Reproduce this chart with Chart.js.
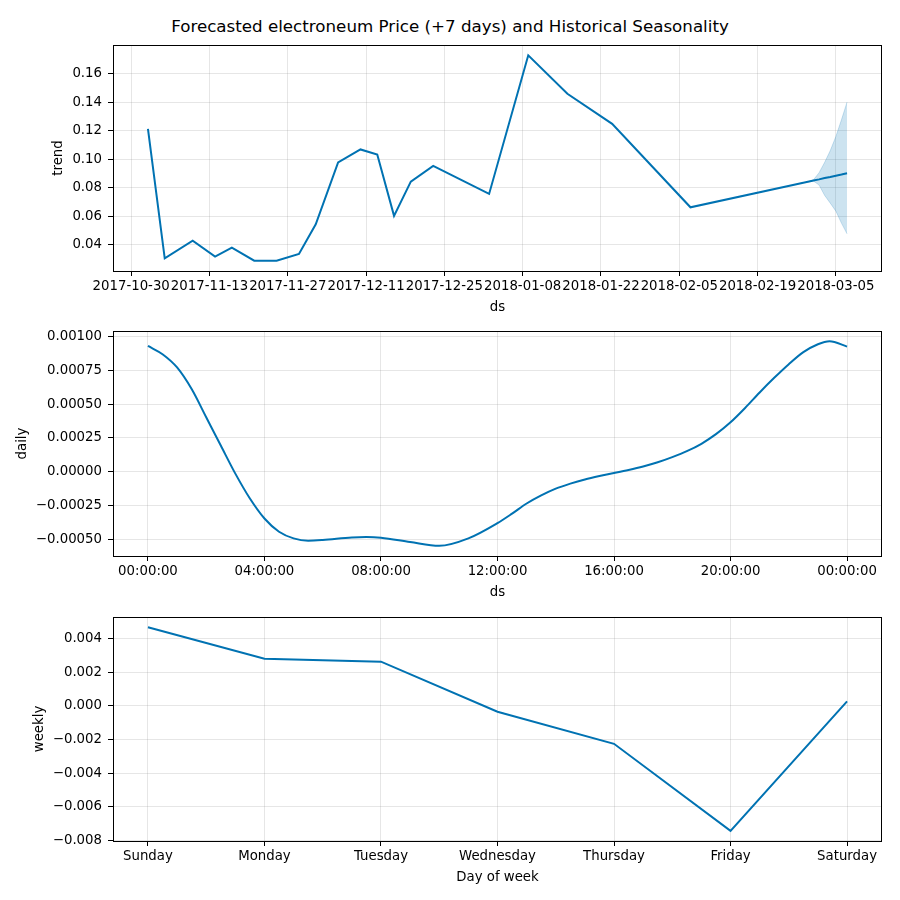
<!DOCTYPE html>
<html>
<head>
<meta charset="utf-8">
<script src="https://cdn.jsdelivr.net/npm/chart.js@4.4.1/dist/chart.umd.min.js"></script>
<style>
  html, body { margin: 0; padding: 0; background: #fff; }
  #wrap { position: relative; width: 900px; height: 900px; background: #fff; overflow: hidden; }
  #title { position: absolute; left: 0; top: 16px; width: 900px; text-align: center;
           font-family: "DejaVu Sans", sans-serif; font-size: 16.7px; line-height: 20px; color: #000; }
  canvas { position: absolute; left: 0; }
</style>
</head>
<body>
<div id="wrap">
  <div id="title">Forecasted electroneum Price (+7 days) and Historical Seasonality</div>
  <canvas id="trendChart" width="900" height="320" style="top:0;width:900px;height:320px"></canvas>
  <canvas id="dailyChart" width="900" height="288" style="top:317px;width:900px;height:288px"></canvas>
  <canvas id="weeklyChart" width="900" height="287" style="top:603px;width:900px;height:287px"></canvas>
</div>
<script>
// ---- trend (history vertices, then the 7 forecast days) ----
var trendDates = ['2017-11-02', '2017-11-05', '2017-11-10', '2017-11-14', '2017-11-17', '2017-11-21',
    '2017-11-25', '2017-11-29', '2017-12-02', '2017-12-06', '2017-12-10', '2017-12-13', '2017-12-16',
    '2017-12-19', '2017-12-23', '2018-01-02', '2018-01-09', '2018-01-16', '2018-01-24', '2018-02-07',
    '2018-02-28', '2018-03-01', '2018-03-02', '2018-03-03', '2018-03-04', '2018-03-05', '2018-03-06',
    '2018-03-07'];
var trendValues = [0.1213, 0.0304, 0.0428, 0.0316, 0.0379, 0.0287, 0.0287, 0.0334, 0.0543, 0.0977,
    0.1068, 0.1033, 0.0602, 0.0842, 0.0953, 0.0756, 0.1729, 0.1459, 0.1248, 0.0662,
    0.0841, 0.0850, 0.0858, 0.0867, 0.0875, 0.0884, 0.0892, 0.0901];

// uncertainty band on the forecast part
var bandDates = ['2018-02-28', '2018-03-01', '2018-03-02', '2018-03-03', '2018-03-04', '2018-03-05',
    '2018-03-06', '2018-03-07'];
var bandLower = [0.0841, 0.0846, 0.0818, 0.0745, 0.0691, 0.0635, 0.0551, 0.0476];
var bandUpper = [0.0841, 0.0855, 0.0905, 0.0978, 0.1060, 0.1159, 0.1276, 0.1400];

var trendTickDates = ['2017-10-30', '2017-11-13', '2017-11-27', '2017-12-11', '2017-12-25',
    '2018-01-08', '2018-01-22', '2018-02-05', '2018-02-19', '2018-03-05'];
var trendYTicks = [0.04, 0.06, 0.08, 0.10, 0.12, 0.14, 0.16];

// ---- daily seasonality (hour of day) ----
var dailyHours = [0, 0.5, 1, 1.5, 2, 2.5, 3, 3.5, 4, 4.5, 5, 5.5, 6, 7, 7.5, 8, 9, 10, 11, 12, 12.5,
    13, 13.5, 14, 14.5, 15, 15.5, 16, 16.5, 17, 17.5, 18, 18.5, 19, 19.5, 20, 20.5, 21, 21.5, 22, 22.5,
    23, 23.4, 24];
var dailyValues = [0.000931, 0.000870, 0.000772, 0.000612, 0.000403, 0.000194, -0.000014, -0.000198,
    -0.000346, -0.000444, -0.000493, -0.000510, -0.000505, -0.000486, -0.000483, -0.000488, -0.000520,
    -0.000548, -0.000493, -0.000380, -0.000310, -0.000235, -0.000175, -0.000125, -0.000088, -0.000057,
    -0.000032, -0.000010, 0.000013, 0.000039, 0.000070, 0.000108, 0.000152, 0.000207, 0.000278,
    0.000366, 0.000472, 0.000587, 0.000695, 0.000796, 0.000885, 0.000944, 0.000966, 0.000926];
var dailyTickHours = [0, 4, 8, 12, 16, 20, 24];
var dailyTickLabels = ['00:00:00', '04:00:00', '08:00:00', '12:00:00', '16:00:00', '20:00:00', '00:00:00'];
var dailyYTicks = [-0.0005, -0.00025, 0, 0.00025, 0.0005, 0.00075, 0.001];

// ---- weekly seasonality ----
var weekDays = ['Sunday', 'Monday', 'Tuesday', 'Wednesday', 'Thursday', 'Friday', 'Saturday'];
var weeklyValues = [0.00467, 0.00280, 0.00262, -0.000355, -0.00226, -0.00743, 0.000257];
var weeklyYTicks = [-0.008, -0.006, -0.004, -0.002, 0, 0.002, 0.004];

var LINE = '#0072B2';
var BAND = 'rgba(0, 114, 178, 0.2)';
var GRID = 'rgba(128, 128, 128, 0.2)';
var PLOT_LEFT = 113, PLOT_RIGHT = 18, XAXIS_H = 49;

Chart.defaults.font.family = '"DejaVu Sans", sans-serif';
Chart.defaults.font.size = 13.3;
Chart.defaults.color = '#000';

var day0 = Date.parse('2017-10-30T00:00:00Z');
function toDay(d) { return (Date.parse(d + 'T00:00:00Z') - day0) / 86400000; }
function minus(s) { return s.replace('-', '\u2212'); }
function withMargin(lo, hi) { var m = (hi - lo) * 0.05; return [lo - m, hi + m]; }

// black box round each plot area
var frame = {
    id: 'frame',
    afterDraw: function(chart) {
        var a = chart.chartArea, c = chart.ctx;
        c.save();
        c.strokeStyle = '#000';
        c.lineWidth = 1;
        c.strokeRect(Math.round(a.left) + 0.5, Math.round(a.top) + 0.5,
            Math.round(a.right - a.left) - 1, Math.round(a.bottom - a.top));
        c.restore();
    }
};

function axis(range, tickValues, label, title, isX, padLeft) {
    var cfg = {
        type: 'linear',
        min: range[0],
        max: range[1],
        afterBuildTicks: function(s) { s.ticks = tickValues.map(function(v) { return { value: v }; }); },
        ticks: { autoSkip: false, maxRotation: 0, minRotation: 0, padding: isX ? 3 : 6,
                 callback: function(v, i) { return label(v, i); } },
        grid: { color: GRID, lineWidth: 1, tickColor: '#000', tickLength: 5, tickWidth: 1 },
        border: { display: false },
        title: { display: true, text: title, padding: isX ? { top: 0, bottom: 4 } : { top: 0, bottom: 0 } }
    };
    if (isX) {
        cfg.afterFit = function(s) { s.height = XAXIS_H; };
    } else {
        cfg.afterFit = function(s) { s.width = PLOT_LEFT - padLeft; };
    }
    return cfg;
}

function panel(id, datasets, xCfg, yCfg, padLeft, padTop) {
    return new Chart(document.getElementById(id).getContext('2d'), {
        type: 'line',
        data: { datasets: datasets },
        options: {
            responsive: false,
            animation: false,
            layout: { padding: { left: padLeft, top: padTop, right: PLOT_RIGHT, bottom: 0 } },
            plugins: { legend: { display: false }, tooltip: { enabled: false } },
            elements: { point: { radius: 0 } },
            scales: { x: xCfg, y: yCfg }
        },
        plugins: [frame]
    });
}

// ---- panel 1: trend ----
var trendDays = trendDates.map(toDay);
var bandDays = bandDates.map(toDay);
var trendX = withMargin(Math.min.apply(null, trendDays), Math.max.apply(null, trendDays));
var trendY = withMargin(Math.min.apply(null, trendValues.concat(bandLower)),
    Math.max.apply(null, trendValues.concat(bandUpper)));
var trendTickDays = trendTickDates.map(toDay);

panel('trendChart', [
    { data: trendDays.map(function(d, i) { return { x: d, y: trendValues[i] }; }),
      borderColor: LINE, borderWidth: 2, fill: false },
    { data: bandDays.map(function(d, i) { return { x: d, y: bandUpper[i] }; }),
      borderColor: BAND, borderWidth: 1, backgroundColor: BAND, fill: '+1' },
    { data: bandDays.map(function(d, i) { return { x: d, y: bandLower[i] }; }),
      borderColor: BAND, borderWidth: 1, fill: false }
],
    axis(trendX, trendTickDays, function(v, i) { return trendTickDates[i]; }, 'ds', true),
    axis(trendY, trendYTicks, function(v) { return v.toFixed(2); }, 'trend', false, 51),
    51, 45);

// ---- panel 2: daily ----
var dailyY = withMargin(Math.min.apply(null, dailyValues), Math.max.apply(null, dailyValues));
panel('dailyChart', [
    { data: dailyHours.map(function(h, i) { return { x: h, y: dailyValues[i] }; }),
      borderColor: LINE, borderWidth: 2, fill: false, cubicInterpolationMode: 'monotone' }
],
    axis(withMargin(0, 24), dailyTickHours, function(v, i) { return dailyTickLabels[i]; }, 'ds', true),
    axis(dailyY, dailyYTicks, function(v) { return minus(v.toFixed(5)); }, 'daily', false, 14.5),
    14.5, 14);

// ---- panel 3: weekly ----
var weeklyY = withMargin(Math.min.apply(null, weeklyValues), Math.max.apply(null, weeklyValues));
panel('weeklyChart', [
    { data: weeklyValues.map(function(v, i) { return { x: i, y: v }; }),
      borderColor: LINE, borderWidth: 2, fill: false }
],
    axis(withMargin(0, weekDays.length - 1), weekDays.map(function(d, i) { return i; }),
        function(v, i) { return weekDays[i]; }, 'Day of week', true),
    axis(weeklyY, weeklyYTicks, function(v) { return minus(v.toFixed(3)); }, 'weekly', false, 31.5),
    31.5, 14);
</script>
</body>
</html>
